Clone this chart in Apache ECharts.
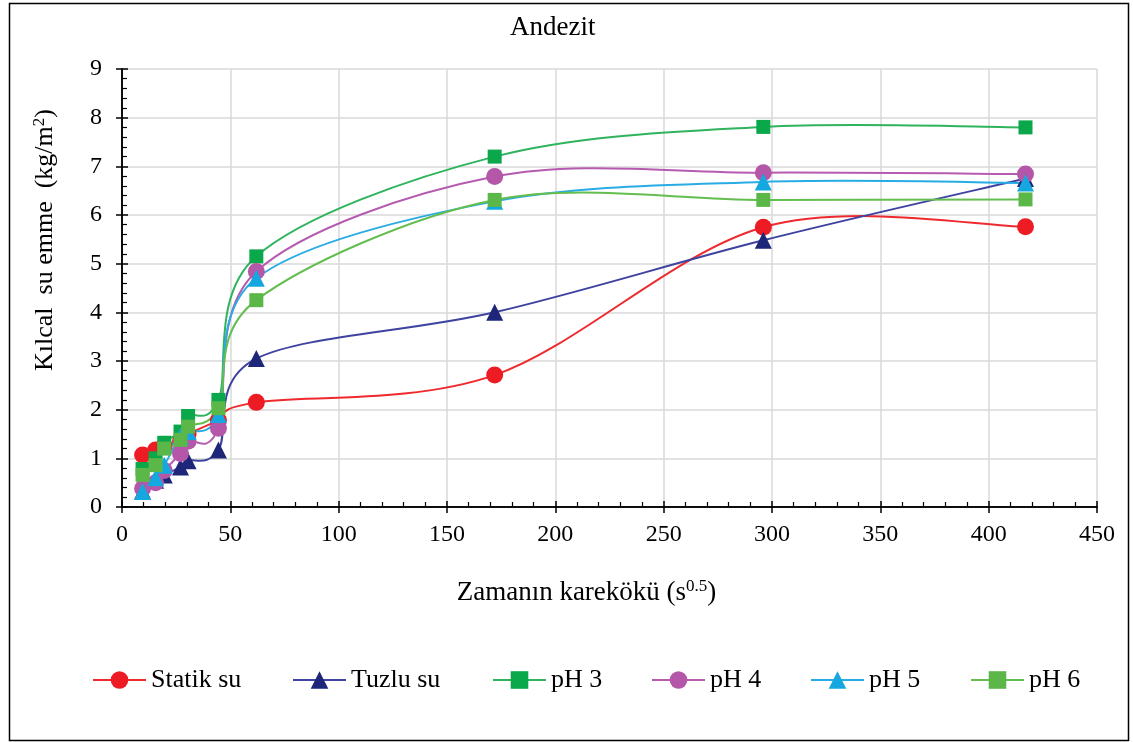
<!DOCTYPE html>
<html>
<head>
<meta charset="utf-8">
<script src="https://cdn.jsdelivr.net/npm/echarts@6/dist/echarts.min.js"></script>
<style>html,body{margin:0;padding:0;background:#fff}#c{width:1133px;height:742px}</style>
</head>
<body>
<div id="c"></div>
<script>
const xValues = [9.5, 15.5, 19.5, 27, 30.5, 44.5, 62, 172, 296, 417];
const statikSu = [1.07, 1.17, 1.26, 1.36, 1.5, 1.78, 2.15, 2.71, 5.75, 5.76];
const tuzluSu = [0.33, 0.55, 0.66, 0.82, 0.95, 1.17, 3.05, 4.0, 5.48, 6.75];
const pH3 = [0.78, 1.0, 1.32, 1.55, 1.87, 2.2, 5.15, 7.2, 7.81, 7.8];
const pH4 = [0.38, 0.5, 0.75, 1.1, 1.35, 1.62, 4.84, 6.79, 6.87, 6.84];
const pH5 = [0.32, 0.6, 0.86, 1.45, 1.55, 1.9, 4.7, 6.28, 6.68, 6.66];
const pH6 = [0.66, 0.86, 1.2, 1.38, 1.65, 2.03, 4.25, 6.31, 6.31, 6.32];
const seriesNames = ['Statik su', 'Tuzlu su', 'pH 3', 'pH 4', 'pH 5', 'pH 6'];

const chart = echarts.init(document.getElementById('c'));
const FONT = 'Liberation Serif';
const pairs = arr => arr.map((v, i) => [xValues[i], v]);

const styles = [
  {sym: 'circle', size: 17, line: '#ee2a2f', mark: '#ed1c24'},
  {sym: 'triangle', size: 17, line: '#3f43a0', mark: '#1d2678'},
  {sym: 'rect', size: 14, line: '#2fb35c', mark: '#0aa84a'},
  {sym: 'circle', size: 17, line: '#b55bb0', mark: '#b457a8'},
  {sym: 'triangle', size: 17, line: '#29ace4', mark: '#15a8e0'},
  {sym: 'rect', size: 14, line: '#63bd4f', mark: '#5bb848'}
];
const dataSets = [statikSu, tuzluSu, pH3, pH4, pH5, pH6];

// Smoothed connecting curves (Catmull-Rom style, like spreadsheet "smoothed line"),
// computed in pixel space from the library's own coordinate conversion.
function curveSeries(d, i) {
  const pts = pairs(d);
  return {
    name: seriesNames[i] + ' (eğri)',
    type: 'custom',
    xAxisIndex: 0, yAxisIndex: 0,
    data: pts,
    encode: {x: 0, y: 1},
    z: 2,
    silent: true,
    renderItem: function (params, api) {
      const k = params.dataIndex;
      if (k >= pts.length - 1) return null;
      const P = j => api.coord(pts[Math.max(0, Math.min(pts.length - 1, j))]);
      const p0 = P(k - 1), p1 = P(k), p2 = P(k + 1), p3 = P(k + 2);
      const t = 1 / 6;
      return {
        type: 'bezierCurve',
        shape: {
          x1: p1[0], y1: p1[1], x2: p2[0], y2: p2[1],
          cpx1: p1[0] + (p2[0] - p0[0]) * t, cpy1: p1[1] + (p2[1] - p0[1]) * t,
          cpx2: p2[0] - (p3[0] - p1[0]) * t, cpy2: p2[1] - (p3[1] - p1[1]) * t
        },
        style: {stroke: styles[i].line, lineWidth: 2, fill: 'none'}
      };
    },
    animation: false
  };
}

const markerSeries = dataSets.map((d, i) => ({
  name: seriesNames[i],
  type: 'line',
  xAxisIndex: 0, yAxisIndex: 0,
  data: pairs(d),
  z: 3,
  symbol: styles[i].sym,
  symbolSize: styles[i].size,
  showSymbol: true,
  lineStyle: {color: styles[i].line, width: 2, opacity: 0},
  itemStyle: {color: styles[i].mark},
  emphasis: {disabled: true},
  animation: false
}));

const legendLefts = [87, 287, 487, 646, 805, 965];
const legends = seriesNames.map((n, i) => ({
  data: [n],
  left: legendLefts[i],
  top: 662,
  itemWidth: 53,
  itemHeight: 22,
  itemGap: 0,
  lineStyle: {opacity: 1, width: 2},
  textStyle: {fontFamily: FONT, fontSize: 26, color: '#000'},
  selectedMode: false
}));

const axisCommonX = {type: 'value', min: 0, max: 450, interval: 50, gridIndex: 0};
const axisCommonY = {type: 'value', min: 0, max: 9, interval: 1, gridIndex: 0};
const supRich = {sup: {fontFamily: FONT, fontSize: 17, color: '#000', verticalAlign: 'top', padding: [0, 0, 12, 0]}};

chart.setOption({
  backgroundColor: '#fff',
  animation: false,
  title: {
    text: 'Andezit', left: 505, top: 9,
    textStyle: {fontFamily: FONT, fontSize: 27, fontWeight: 'normal', color: '#000'}
  },
  legend: legends,
  grid: {left: 122, right: 36, top: 69, bottom: 235, show: false},
  xAxis: [
    Object.assign({}, axisCommonX, {
      position: 'bottom',
      name: 'Zamanın karekökü (s{sup|0.5})',
      nameLocation: 'middle', nameGap: 71,
      nameTextStyle: {fontFamily: FONT, fontSize: 27, color: '#000', padding: [0, 46, 0, 0], rich: supRich},
      axisLine: {show: true, lineStyle: {color: '#000', width: 1.5}},
      axisTick: {show: true, inside: false, length: 6, lineStyle: {color: '#000', width: 1.5}},
      axisLabel: {fontFamily: FONT, fontSize: 24, color: '#000', margin: 16},
      splitLine: {show: true, lineStyle: {color: '#d9d9d9', width: 1.5}},
      minorTick: {show: false}
    }),
    Object.assign({}, axisCommonX, {
      position: 'bottom',
      axisLine: {show: false},
      axisTick: {show: true, inside: true, length: 6, lineStyle: {color: '#000', width: 1.5}},
      minorTick: {show: true, splitNumber: 5, length: 5, lineStyle: {color: '#000', width: 1.2}},
      axisLabel: {show: false},
      splitLine: {show: false}
    }),
    Object.assign({}, axisCommonX, {
      position: 'top',
      axisLine: {show: true, lineStyle: {color: '#000', width: 1.5}},
      axisTick: {show: false}, axisLabel: {show: false}, splitLine: {show: false}
    })
  ],
  yAxis: [
    Object.assign({}, axisCommonY, {
      position: 'left',
      name: 'Kılcal  su emme  (kg/m{sup|2})',
      nameLocation: 'middle', nameGap: 62, nameRotate: 90,
      nameTextStyle: {fontFamily: FONT, fontSize: 26, color: '#000', padding: [0, 0, 0, 96], rich: supRich},
      axisLine: {show: true, lineStyle: {color: '#000', width: 1.5}},
      axisTick: {show: true, inside: false, length: 6, lineStyle: {color: '#000', width: 1.5}},
      axisLabel: {fontFamily: FONT, fontSize: 24, color: '#000', margin: 20},
      splitLine: {show: true, lineStyle: {color: '#d9d9d9', width: 1.5}},
      minorTick: {show: false}
    }),
    Object.assign({}, axisCommonY, {
      position: 'left',
      axisLine: {show: false},
      axisTick: {show: true, inside: true, length: 6, lineStyle: {color: '#000', width: 1.5}},
      minorTick: {show: true, splitNumber: 5, length: 5, lineStyle: {color: '#000', width: 1.2}},
      axisLabel: {show: false},
      splitLine: {show: false}
    }),
    Object.assign({}, axisCommonY, {
      position: 'right',
      axisLine: {show: true, lineStyle: {color: '#000', width: 1.5}},
      axisTick: {show: false}, axisLabel: {show: false}, splitLine: {show: false}
    })
  ],
  graphic: [{
    type: 'rect', left: 7, top: 1, z: 100,
    shape: {width: 1119, height: 737},
    style: {fill: 'none', stroke: '#000', lineWidth: 1.5}
  }],
  series: dataSets.map(curveSeries).concat(markerSeries)
});
</script>
</body>
</html>
